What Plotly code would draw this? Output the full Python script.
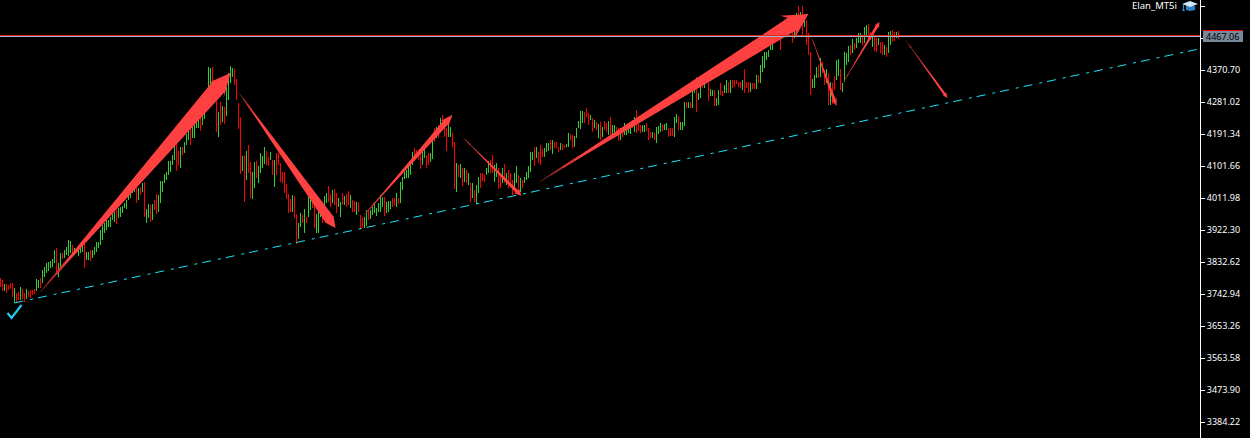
import math
import plotly.graph_objects as go

bar_high = [
3788,3782,3771,3771,3769,3774,3774,3760,3746,3749,
3763,3757,3746,3757,3752,3754,3754,3757,3785,3782,
3788,3811,3819,3830,3833,3836,3841,3866,3872,3830,
3858,3858,3866,3875,3895,3892,3881,3872,3872,3866,
3886,3886,3886,3861,3861,3866,3866,3875,3889,3889,
3923,3937,3942,3950,3950,3959,3970,3973,3979,3984,
3987,3990,3998,4007,4029,4035,4057,4052,4052,4041,
4043,4054,4057,3982,3996,3993,3996,4007,4024,4021,
4060,4060,4079,4085,4116,4116,4133,4166,4166,4144,
4155,4155,4169,4191,4208,4211,4211,4217,4225,4236,
4236,4250,4259,4315,4379,4377,4379,4343,4306,4253,
4281,4270,4267,4323,4362,4382,4376,4374,4346,4278,
4239,4130,4133,4144,4161,4113,4085,4113,4116,4102,
4138,4130,4155,4144,4127,4141,4119,4119,4138,4138,
4110,4085,4085,4052,4024,4009,4021,4018,3967,3942,
3970,3965,3982,3959,4015,4018,4001,3998,3967,3973,
4007,4001,4018,4026,4046,4024,4035,4037,4026,4012,
4001,4026,4018,4024,4032,4021,4007,4004,4001,4001,
3965,3956,3959,3979,3979,3979,3987,4001,3984,3998,
4021,4015,4015,4001,4004,4004,4012,4012,4026,4012,
4057,4071,4085,4091,4105,4105,4141,4152,4147,4147,
4138,4141,4152,4133,4138,4138,4180,4208,4211,4217,
4236,4245,4225,4208,4222,4211,4194,4169,4110,4105,
4108,4096,4096,4091,4082,4054,4054,4035,4049,4071,
4082,4082,4077,4096,4116,4119,4133,4105,4110,4096,
4082,4096,4108,4082,4091,4082,4063,4082,4102,4077,
4068,4063,4071,4085,4102,4141,4141,4155,4155,4141,
4161,4149,4152,4166,4166,4175,4175,4169,4169,4155,
4166,4163,4161,4163,4194,4191,4189,4186,4208,4228,
4256,4256,4253,4264,4250,4245,4236,4231,4225,4219,
4225,4211,4228,4222,4228,4239,4217,4217,4211,4208,
4208,4203,4222,4211,4208,4222,4231,4239,4259,4222,
4217,4217,4217,4222,4208,4197,4197,4194,4211,4214,
4222,4217,4219,4222,4208,4208,4208,4239,4247,4242,
4225,4225,4281,4281,4281,4281,4315,4320,4351,4306,
4326,4337,4343,4348,4334,4318,4315,4315,4292,4315,
4334,4312,4329,4343,4337,4343,4343,4343,4343,4337,
4337,4343,4374,4337,4337,4334,4334,4334,4357,4357,
4385,4410,4421,4421,4427,4441,4455,4489,4491,4497,
4475,4503,4511,4517,4511,4505,4483,4511,4531,4550,
4533,4550,4525,4511,4475,4421,4346,4357,4379,4385,
4404,4393,4371,4374,4362,4337,4334,4354,4399,4402,
4374,4334,4421,4418,4438,4441,4458,4446,4460,4474,
4474,4469,4491,4497,4500,4477,4469,4463,4460,4460,
4449,4449,4441,4435,4477,4480,4483,4477,4477,4480,
]
bar_low = [
3763,3752,3752,3746,3754,3757,3735,3718,3721,3726,
3726,3729,3721,3729,3735,3732,3740,3743,3752,3760,
3760,3774,3791,3802,3808,3816,3819,3830,3799,3791,
3811,3841,3844,3853,3850,3858,3858,3853,3858,3850,
3858,3861,3816,3839,3839,3836,3844,3853,3861,3872,
3881,3895,3914,3922,3931,3931,3950,3945,3939,3956,
3959,3970,3984,3982,4007,4012,4026,4029,3998,4007,
4021,4029,3959,3942,3956,3945,3951,3979,3967,3973,
3998,4029,4054,4063,4077,4085,4105,4119,4088,4102,
4096,4133,4138,4161,4175,4161,4180,4180,4208,4208,
4200,4217,4233,4259,4287,4315,4323,4287,4197,4183,
4217,4225,4219,4242,4287,4334,4351,4329,4287,4206,
4079,4088,4001,4063,4082,4012,4009,4040,4068,4054,
4082,4096,4107,4105,4102,4119,4077,4043,4077,4105,
4057,4054,4026,4009,3970,3973,3973,3956,3883,3897,
3931,3942,3914,3942,3959,3979,3984,3928,3914,3914,
3959,3942,3979,3998,4001,3987,3998,3993,3970,3987,
3959,3993,3993,3987,3993,3984,3973,3973,3965,3973,
3925,3928,3928,3934,3950,3953,3965,3970,3962,3973,
3973,3987,3962,3970,3973,3982,3987,3990,3987,3996,
3998,4035,4066,4068,4068,4077,4105,4119,4124,4119,
4093,4105,4124,4096,4105,4113,4122,4169,4180,4180,
4208,4208,4183,4144,4183,4183,4155,4037,4029,4071,
4068,4046,4057,4054,4049,4001,4012,4001,3996,4026,
4040,4060,4057,4077,4082,4082,4082,4057,4071,4037,
4040,4054,4054,4049,4040,4054,4021,4032,4054,4040,
4029,4040,4054,4063,4068,4085,4119,4102,4124,4110,
4105,4127,4127,4141,4144,4147,4135,4152,4152,4141,
4147,4147,4152,4155,4155,4175,4152,4155,4180,4208,
4206,4222,4222,4239,4217,4231,4197,4208,4203,4180,
4175,4183,4203,4197,4189,4189,4189,4197,4189,4172,
4175,4183,4189,4189,4194,4191,4208,4197,4194,4200,
4194,4197,4197,4200,4175,4180,4180,4175,4166,4191,
4197,4200,4203,4203,4183,4186,4186,4183,4222,4203,
4203,4203,4214,4264,4264,4264,4264,4306,4253,4287,
4292,4320,4320,4334,4284,4298,4298,4270,4270,4273,
4301,4298,4306,4306,4306,4306,4320,4323,4332,4323,
4320,4315,4306,4320,4306,4309,4318,4318,4318,4334,
4334,4365,4376,4399,4407,4427,4427,4449,4463,4469,
4427,4475,4483,4489,4483,4483,4446,4461,4475,4503,
4511,4469,4491,4441,4413,4301,4320,4320,4348,4348,
4351,4362,4329,4334,4273,4273,4276,4315,4343,4354,
4315,4309,4337,4385,4393,4413,4418,4427,4432,4446,
4446,4441,4446,4469,4449,4455,4435,4424,4421,4441,
4418,4413,4413,4407,4418,4441,4449,4452,4460,4458,
]
bar_dir = "".join([
"rrgrrrrgrr","grrgrrrrgg","rgggggggrg","grggggrgrg","ggrggrgggg",
"ggggggggrg","ggggggggrg","rgrggrgrrg","ggggggggrr","grgggrgggg",
"rgggggrrrg","rgrggggrrr","rgrgrrggrg","gggrrgrgrr","rrrrrrgrrg",
"grgrggrrgg","grggrrgrrg","grgrrgrrgr","rrggrggggg","ggrgggrrgr",
"gggggggrrr","rggrrggrgr","grrrggrrgr","grgrgrgrgg","rrrggrrggr",
"rgrgrrrggr","grgggggrgr","rrgggrgrrr","grrggrrggg","ggrrrgrgrg",
"rgrrgrggrr","grggggrgrr","rggrrrgrgg","grggrrrggr","gggrgrggrg",
"grggrggrgg","rrggrgrrrr","rgrrrgrrgr","gggggggggg","rggrgrrggr",
"grgrrrgggr","grrgrgrrgg","rggggrgrgg","grggrrgrrg","rrgrggrrgr",
])
price_ticks = [4550.06, 4460.38, 4370.70, 4281.02, 4191.34, 4101.66, 4011.98,
               3922.30, 3832.62, 3742.94, 3653.26, 3563.58, 3473.90, 3384.22]
tick_text = ["4550.06", "", "4370.70", "4281.02", "4191.34", "4101.66", "4011.98",
             "3922.30", "3832.62", "3742.94", "3653.26", "3563.58", "3473.90", "3384.22"]
current_price = 4467.06
symbol_name = "Elan_MT5i"

# tail bar, tail price, tip bar, tip price
arrow_tail_bar = [19, 119, 181, 231, 268.5, 405.5, 421.5, 452.5]
arrow_tail_price = [3743, 4309, 3959, 4183, 4054, 4463, 4337, 4455]
arrow_tip_bar = [115, 167.5, 226, 260.5, 404, 418, 439.5, 473.5]
arrow_tip_price = [4362, 3928, 4245, 4018, 4528, 4270, 4505, 4292]
arrow_head_len = [24, 13, 13, 8, 25, 8, 6, 6]
arrow_head_half = [11.5, 6.5, 5, 4, 13.5, 3, 3, 2.5]
arrow_neck_half = [8, 5, 3, 1.7, 7.5, 1.5, 1.5, 1.2]

trend_bar = [7.0, 599.5]
trend_price = [3718, 4430]
check_bar = [3.5, 5.5, 10.5]
check_price = [3690, 3676, 3712]

TICK_FONT = "Noto Sans"
W, H = 1250, 438
PLOT_W = 1200
PRICE_TOP = 4566.9
PX_PRICE = 2.8025
PRICE_BOT = PRICE_TOP - H * PX_PRICE
X0 = -0.25
PX_BAR = 2.0

n = min(len(bar_high), len(bar_low), len(bar_dir))
up = [i for i in range(n) if bar_dir[i] == "g"]
dn = [i for i in range(n) if bar_dir[i] == "r"]

fig = go.Figure()
for idx, col in ((up, "#32CD32"), (dn, "#FF0000")):
    fig.add_trace(go.Bar(
        x=idx,
        y=[bar_high[i] - bar_low[i] for i in idx],
        base=[bar_low[i] for i in idx],
        width=0.5,
        marker=dict(color=col, line=dict(width=0)),
        hoverinfo="skip",
        showlegend=False,
    ))


def to_data(px, py):
    return px / PX_BAR, -py * PX_PRICE


def poly(pts, col):
    xs, ys = zip(*[to_data(*p) for p in pts])
    fig.add_trace(go.Scatter(
        x=list(xs) + [xs[0]], y=list(ys) + [ys[0]],
        mode="lines", fill="toself", fillcolor=col,
        line=dict(width=0, color=col), hoverinfo="skip", showlegend=False,
    ))


for k in range(len(arrow_tip_bar)):
    ax, ay = arrow_tail_bar[k] * PX_BAR, -arrow_tail_price[k] / PX_PRICE
    bx, by = arrow_tip_bar[k] * PX_BAR, -arrow_tip_price[k] / PX_PRICE
    L = math.hypot(bx - ax, by - ay)
    ux, uy = (bx - ax) / L, (by - ay) / L
    nx, ny = -uy, ux
    hl, hh, nh = arrow_head_len[k], arrow_head_half[k], arrow_neck_half[k]
    shaft = L - hl

    def P(d, w):
        return (ax + ux * d + nx * w, ay + uy * d + ny * w)

    poly([P(0, 0), P(shaft + hl * 0.22, nh), P(shaft, hh), P(L, 0),
          P(shaft, -hh), P(shaft + hl * 0.22, -nh)], "#FF4040")
    steps = [(0.0, 0.05, "#6a1a1a"), (0.05, 0.10, "#9a2828"), (0.10, 0.15, "#c83232")]
    for t0, t1, c in steps:
        w0 = nh * t0 * 1.0
        w1 = nh * t1 * 1.0
        poly([P(shaft * t0, w0 + 0.3), P(shaft * t1, w1 + 0.3),
              P(shaft * t1, -w1 - 0.3), P(shaft * t0, -w0 - 0.3)], c)

fig.add_trace(go.Scatter(
    x=trend_bar, y=trend_price, mode="lines",
    line=dict(color="#19E6FA", width=1, dash="9px,7px,3px,5px"),
    hoverinfo="skip", showlegend=False,
))
fig.add_trace(go.Scatter(
    x=check_bar, y=check_price, mode="lines",
    line=dict(color="#22CCEE", width=2.2),
    hoverinfo="skip", showlegend=False,
))
xr = [X0, X0 + PLOT_W / PX_BAR]
fig.add_trace(go.Scatter(x=xr, y=[current_price + 0.3] * 2, mode="lines",
                         line=dict(color="#E02828", width=1), hoverinfo="skip", showlegend=False))
fig.add_trace(go.Scatter(x=xr, y=[current_price - 2.5] * 2, mode="lines",
                         line=dict(color="#A9B4C4", width=1), hoverinfo="skip", showlegend=False))


def qx(px):
    return px / PLOT_W


def qy(py):
    return 1 - py / H


shapes = [
    dict(type="rect", xref="paper", yref="paper", x0=qx(1203), x1=qx(1243), y0=qy(31), y1=qy(42),
         fillcolor="#778899", line=dict(width=0), layer="above"),
    dict(type="rect", xref="paper", yref="paper", x0=qx(1203), x1=qx(1243), y0=qy(30), y1=qy(31),
         fillcolor="#FF0000", line=dict(width=0), layer="above"),
]


def path(pts, fill):
    d = "M" + " L".join(f"{qx(a):.5f},{qy(b):.5f}" for a, b in pts) + " Z"
    shapes.append(dict(type="path", xref="paper", yref="paper", path=d,
                       fillcolor=fill, line=dict(width=0), layer="above"))


path([(1186, 6), (1186, 10), (1190, 11), (1195, 10), (1195, 6)], "#2F7FC8")
path([(1182, 4), (1190, 1), (1198, 4), (1190, 7)], "#CFE6F7")
path([(1183, 4), (1184, 4), (1184, 9), (1185, 11), (1182, 11), (1183, 9)], "#3A8FD8")

fig.update_layout(
    width=W, height=H,
    margin=dict(l=0, r=W - PLOT_W, t=0, b=0, pad=0),
    paper_bgcolor="#000000", plot_bgcolor="#000000",
    barmode="overlay", bargap=0, showlegend=False,
    shapes=shapes,
    font=dict(family=TICK_FONT, size=9, color="#FFFFFF"),
    xaxis=dict(visible=False, range=xr, fixedrange=True),
    yaxis=dict(
        side="right", range=[PRICE_BOT, PRICE_TOP], tickmode="array",
        tickvals=price_ticks, ticktext=tick_text, ticks="outside", ticklen=4,
        tickcolor="#FFFFFF", tickwidth=1, showline=True, linecolor="#FFFFFF", linewidth=1,
        showgrid=False, zeroline=False, fixedrange=True,
        tickfont=dict(family=TICK_FONT, size=9, color="#FFFFFF"),
    ),
    annotations=[
        dict(xref="paper", yref="paper", x=qx(1222), y=qy(36.5), text=f"{current_price:.2f}",
             showarrow=False, font=dict(family=TICK_FONT, size=9, color="#000000"),
             xanchor="center", yanchor="middle"),
        dict(xref="paper", yref="paper", x=qx(1179), y=qy(5.5), text=symbol_name,
             showarrow=False, font=dict(family="Noto Sans", size=9.5, color="#FFFFFF"),
             xanchor="right", yanchor="middle"),
    ],
)
fig.write_html("out.html", config=dict(displayModeBar=False, responsive=False),
               post_script="document.body.style.margin='0';document.body.style.background='#000';")
